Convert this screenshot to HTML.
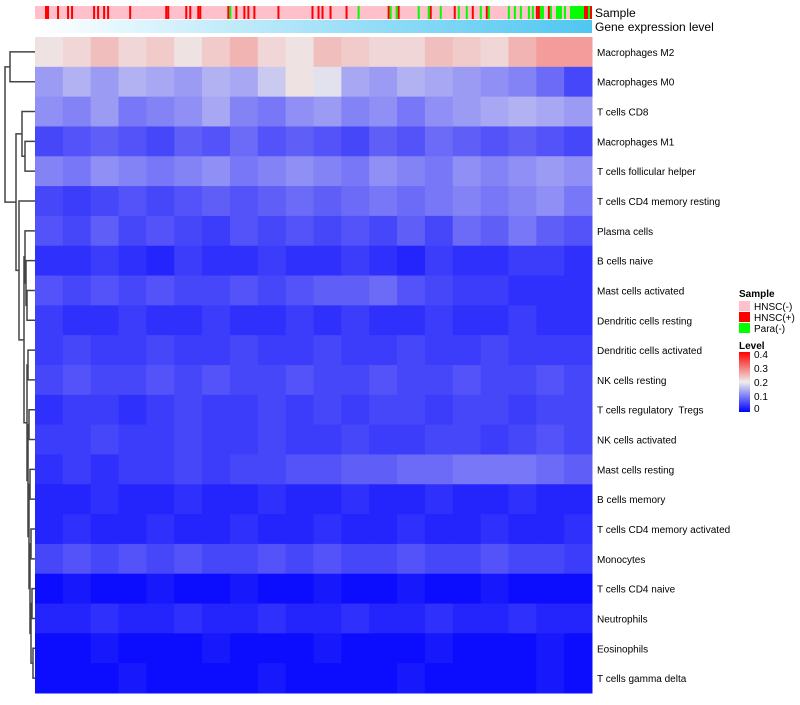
<!DOCTYPE html>
<html><head><meta charset="utf-8"><style>
body{margin:0;background:#fff;width:800px;height:700px;overflow:hidden;font-family:"Liberation Sans",sans-serif}
svg text{font-family:"Liberation Sans",sans-serif;white-space:pre}
</style></head><body>
<svg id="chart" width="800" height="700" xmlns="http://www.w3.org/2000/svg">
<defs>
<linearGradient id="geneGrad" x1="0" x2="1"><stop offset="0" stop-color="#ffffff"/><stop offset="1" stop-color="#4fc6f2"/></linearGradient>
<linearGradient id="levelGrad" x1="0" x2="0" y1="1" y2="0"><stop offset="0" stop-color="#0000ff"/><stop offset="0.5" stop-color="#eeeeee"/><stop offset="1" stop-color="#ff0000"/></linearGradient>
</defs>
<g id="sampleBar"></g>
<rect x="35" y="20" width="557" height="13" fill="url(#geneGrad)"/>
<text x="595" y="17" font-size="12">Sample</text>
<text x="595" y="31" font-size="12">Gene expression level</text>
<g id="cells"></g>
<g id="rowLabels"></g>
<g id="dendro" stroke="#444" fill="none" stroke-width="1.5"></g>
<g font-size="10">
<text x="739" y="297" font-weight="bold">Sample</text>
<rect x="739" y="301" width="11" height="10" fill="#ffc0cb"/><text x="754" y="310">HNSC(-)</text>
<rect x="739" y="312" width="11" height="10" fill="#ff0000"/><text x="754" y="321">HNSC(+)</text>
<rect x="739" y="323" width="11" height="10" fill="#00ff00"/><text x="754" y="332">Para(-)</text>
<text x="739" y="349" font-weight="bold">Level</text>
<rect x="739" y="352" width="11" height="60" fill="url(#levelGrad)"/>
<text x="754" y="358">0.4</text><text x="754" y="372">0.3</text><text x="754" y="386">0.2</text><text x="754" y="400">0.1</text><text x="754" y="412">0</text>
</g>
</svg>
<script>
const rowNames=["Macrophages M2","Macrophages M0","T cells CD8","Macrophages M1","T cells follicular helper","T cells CD4 memory resting","Plasma cells","B cells naive","Mast cells activated","Dendritic cells resting","Dendritic cells activated","NK cells resting","T cells regulatory  Tregs","NK cells activated","Mast cells resting","B cells memory","T cells CD4 memory activated","Monocytes","T cells CD4 naive","Neutrophils","Eosinophils","T cells gamma delta"];
const rowValues=[
[0.21,0.22,0.24,0.22,0.23,0.21,0.23,0.25,0.22,0.21,0.24,0.23,0.22,0.22,0.24,0.23,0.22,0.25,0.27,0.27],
[0.13,0.15,0.13,0.15,0.14,0.13,0.15,0.14,0.17,0.21,0.19,0.14,0.13,0.15,0.14,0.13,0.12,0.11,0.09,0.06],
[0.12,0.11,0.13,0.1,0.11,0.12,0.14,0.11,0.1,0.12,0.13,0.11,0.12,0.1,0.12,0.13,0.14,0.15,0.14,0.13],
[0.06,0.07,0.08,0.07,0.06,0.08,0.07,0.09,0.07,0.08,0.07,0.06,0.08,0.07,0.09,0.08,0.07,0.08,0.07,0.06],
[0.11,0.1,0.12,0.11,0.1,0.11,0.12,0.1,0.11,0.12,0.11,0.1,0.12,0.11,0.1,0.12,0.11,0.12,0.13,0.12],
[0.06,0.05,0.06,0.07,0.06,0.07,0.08,0.07,0.08,0.09,0.08,0.09,0.1,0.09,0.1,0.11,0.1,0.11,0.12,0.1],
[0.07,0.06,0.08,0.06,0.07,0.06,0.05,0.07,0.06,0.07,0.06,0.07,0.06,0.08,0.06,0.09,0.08,0.1,0.08,0.07],
[0.04,0.04,0.05,0.04,0.03,0.05,0.04,0.04,0.05,0.04,0.04,0.05,0.04,0.03,0.05,0.04,0.04,0.05,0.05,0.04],
[0.07,0.06,0.07,0.06,0.07,0.06,0.06,0.07,0.06,0.07,0.08,0.08,0.09,0.07,0.06,0.05,0.05,0.04,0.04,0.04],
[0.05,0.04,0.04,0.05,0.04,0.04,0.05,0.04,0.04,0.05,0.04,0.05,0.04,0.04,0.05,0.04,0.04,0.05,0.04,0.04],
[0.05,0.06,0.05,0.05,0.06,0.05,0.05,0.06,0.05,0.05,0.06,0.05,0.05,0.06,0.05,0.05,0.06,0.05,0.05,0.05],
[0.06,0.07,0.06,0.06,0.07,0.06,0.07,0.06,0.06,0.07,0.06,0.06,0.07,0.06,0.06,0.07,0.06,0.06,0.07,0.06],
[0.04,0.05,0.05,0.04,0.05,0.06,0.05,0.05,0.06,0.05,0.06,0.05,0.06,0.06,0.05,0.06,0.06,0.05,0.06,0.06],
[0.05,0.05,0.06,0.05,0.05,0.06,0.05,0.05,0.06,0.05,0.05,0.06,0.05,0.05,0.06,0.06,0.05,0.06,0.07,0.06],
[0.04,0.05,0.04,0.05,0.05,0.06,0.05,0.06,0.06,0.07,0.07,0.08,0.08,0.09,0.09,0.1,0.1,0.1,0.09,0.08],
[0.03,0.03,0.04,0.03,0.03,0.04,0.03,0.03,0.04,0.03,0.03,0.04,0.03,0.03,0.04,0.03,0.03,0.04,0.03,0.03],
[0.03,0.04,0.03,0.03,0.04,0.03,0.03,0.04,0.03,0.03,0.04,0.03,0.03,0.04,0.03,0.03,0.04,0.03,0.03,0.04],
[0.06,0.07,0.06,0.07,0.06,0.07,0.06,0.06,0.07,0.06,0.07,0.06,0.06,0.07,0.06,0.06,0.07,0.06,0.06,0.05],
[0.01,0.02,0.01,0.01,0.02,0.01,0.01,0.02,0.01,0.01,0.02,0.01,0.01,0.02,0.01,0.01,0.02,0.01,0.01,0.01],
[0.03,0.03,0.04,0.03,0.03,0.04,0.03,0.03,0.04,0.03,0.03,0.04,0.03,0.03,0.04,0.03,0.03,0.04,0.03,0.03],
[0.01,0.01,0.02,0.01,0.01,0.01,0.02,0.01,0.01,0.01,0.02,0.01,0.01,0.01,0.02,0.01,0.01,0.01,0.02,0.01],
[0.01,0.01,0.01,0.02,0.01,0.01,0.01,0.01,0.02,0.01,0.01,0.01,0.01,0.02,0.01,0.01,0.01,0.01,0.02,0.01]
];
const totalSamples=278;
const hnscPosSamples=[5,6,11,16,18,29,31,34,36,47,65,66,75,77,81,82,96,100,104,106,109,121,138,141,143,147,155,176,181,197,209,218,225,250,251,256,274,275,277];
const paraSamples=[97,161,177,180,191,196,202,211,215,222,226,236,239,242,246,248,252,253,257,260,261,262,264,267,268,269,270,271,272,273,276];
const levelTicks=[0,0.1,0.2,0.3,0.4];
const NS="http://www.w3.org/2000/svg";
const X0=35,X1=592,Y0=37,Y1=693;
const rowH=(Y1-Y0)/rowNames.length;
function mk(t,a){const e=document.createElementNS(NS,t);for(const k in a)e.setAttribute(k,a[k]);return e;}
function color(v){v=Math.max(0,Math.min(0.4,v));let r,g,b;
 if(v<0.2){const t=v/0.2;r=Math.round(238*t);g=Math.round(238*t);b=Math.round(255-17*t);}
 else{const t=(v-0.2)/0.2;r=Math.round(238+17*t);g=Math.round(238*(1-t));b=Math.round(238*(1-t));}
 return "rgb("+r+","+g+","+b+")";}
function sx(i,n){return X0+(X1-X0)*i/n;}
function sy(i){return Y0+rowH*i;}
const sb=document.getElementById('sampleBar');
const bg=mk('rect',{x:X0,y:6,width:X1-X0,height:13,fill:'#ffc0cb'});


sb.appendChild(bg);
function addSample(list,fill,name){list.forEach(function(i){const r=mk('rect',{x:sx(i,totalSamples),y:6,width:(X1-X0)/totalSamples,height:13,fill:fill});


sb.appendChild(r);});}
addSample(hnscPosSamples,'#ff0000','sample-hnsc-pos');
addSample(paraSamples,'#00ff00','sample-para-neg');
const cg=document.getElementById('cells');
const lg=document.getElementById('rowLabels');
rowValues.forEach(function(row,ri){row.forEach(function(v,ci){
 const r=mk('rect',{x:sx(ci,row.length),y:sy(ri),width:(X1-X0)/row.length+0.5,height:rowH+0.5,fill:color(v)});
 
 
 cg.appendChild(r);});
 const t=mk('text',{x:597,y:sy(ri)+rowH/2+4,'font-size':10});
 t.textContent=rowNames[ri];
 
 
 lg.appendChild(t);
});
const nC=[2,[3,4,25],22];
const nE=[6,[7,[8,9,27],26],25];
const nL=[[18,19,32],[20,21,33],31];
const nK=[[16,17,31],nL,30];
const nJ=[[14,15,30],nK,29];
const nI=[[12,13,29],nJ,28];
const nH=[[10,11,28],nI,27];
const nG=[nE,nH,24];
const nD=[5,nG,19];
const nB=[nC,nD,16];
const tree=[[0,1,10],nB,5];
const dg=document.getElementById('dendro');
function draw(n){if(typeof n==='number')return{y:sy(n)+rowH/2,x:X0};
 const a=draw(n[0]),b=draw(n[1]),x=n[2];
 const p=mk('path',{d:"M"+a.x+","+a.y+"H"+x+"V"+b.y+"H"+b.x});
 
 
 dg.appendChild(p);return{x:x,y:(a.y+b.y)/2};}
draw(tree);
</script>
</body></html>
